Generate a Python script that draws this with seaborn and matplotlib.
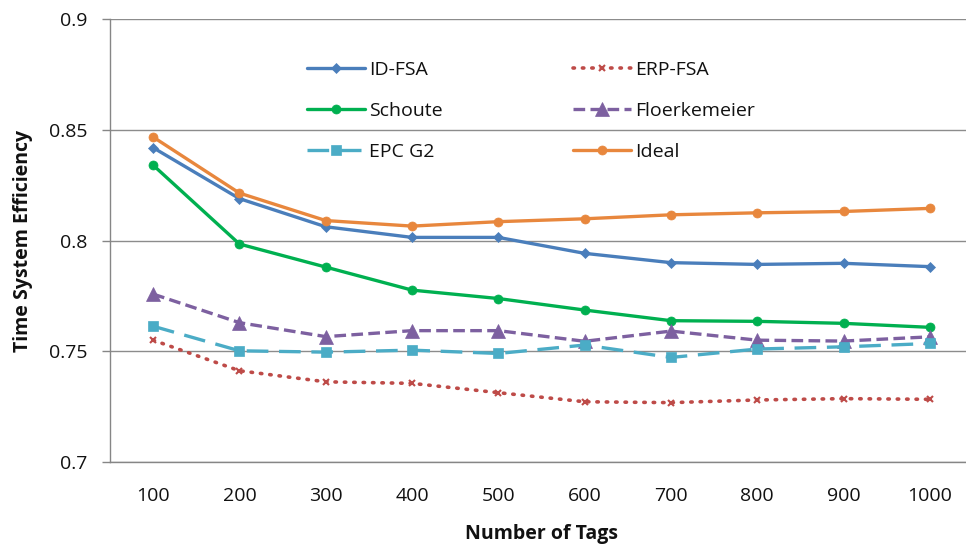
import numpy as np
import pandas as pd
import matplotlib
matplotlib.use("Agg")
import matplotlib.pyplot as plt
import seaborn as sns

tags = [100, 200, 300, 400, 500, 600, 700, 800, 900, 1000]

id_fsa = [0.8419, 0.8189, 0.8062, 0.8014, 0.8014, 0.7942, 0.7900, 0.7892, 0.7897, 0.7882]
erp_fsa = [0.7550, 0.7412, 0.7362, 0.7355, 0.7313, 0.7272, 0.7268, 0.7280, 0.7286, 0.7283]
schoute = [0.8340, 0.7984, 0.7880, 0.7776, 0.7738, 0.7686, 0.7638, 0.7635, 0.7626, 0.7608]
floerkemeier = [0.7758, 0.7629, 0.7566, 0.7593, 0.7593, 0.7545, 0.7591, 0.7550, 0.7546, 0.7565]
epc_g2 = [0.7613, 0.7502, 0.7496, 0.7505, 0.7490, 0.7528, 0.7472, 0.7510, 0.7520, 0.7535]
ideal = [0.8467, 0.8214, 0.8090, 0.8065, 0.8085, 0.8098, 0.8116, 0.8125, 0.8131, 0.8145]

y_ticks = [0.7, 0.75, 0.8, 0.85, 0.9]
y_tick_labels = ["0.7", "0.75", "0.8", "0.85", "0.9"]

sns.set_theme(style="white")
plt.rcParams["font.family"] = ["Open Sans", "DejaVu Sans"]

fig = plt.figure(figsize=(9.66, 5.49), dpi=100)
ax = fig.add_axes([110 / 966, 87 / 549, 863 / 966, 443 / 549])

pos = np.arange(len(tags))

# (label, values, color, dash pattern, marker, marker size)
series = [
    ("ID-FSA", id_fsa, "#4A7EBB", None, "D", 5),
    ("ERP-FSA", erp_fsa, "#BE4B48", (0.4, 2.2), "x", 5),
    ("Schoute", schoute, "#00B050", None, "o", 6.5),
    ("Floerkemeier", floerkemeier, "#7D60A0", (3.5, 1.6), "^", 10),
    ("EPC G2", epc_g2, "#4BACC6", (6.5, 3.2), "s", 7.5),
    ("Ideal", ideal, "#E8873D", None, "o", 6.5),
]

for label, vals, color, dash, marker, ms in series:
    df = pd.DataFrame({"x": pos, "y": vals})
    line_ax = sns.lineplot(data=df, x="x", y="y", ax=ax, color=color, linewidth=2.4,
                           marker=marker, markersize=ms, markeredgecolor=color,
                           markerfacecolor=color, markeredgewidth=1.5 if marker == "x" else 0.5,
                           label=label)
    ln = line_ax.lines[-1]
    if dash is not None:
        ln.set_dashes(dash)
        if label == "ERP-FSA":
            ln.set_dash_capstyle("round")
            ln.set_linewidth(2.6)

ax.set_xlim(-0.5, len(tags) - 0.5)
ax.set_ylim(0.7, 0.9)

ax.set_yticks(y_ticks)
ax.set_yticklabels(y_tick_labels)
ax.set_xticks(pos)
ax.set_xticklabels([str(t) for t in tags])
ax.set_xticks(np.arange(-0.5, len(tags), 1.0), minor=True)

ax.tick_params(axis="x", which="major", length=0, pad=18, labelsize=14, colors="#111111")
ax.tick_params(axis="x", which="minor", length=6, width=1, color="#868686", direction="out")
ax.tick_params(axis="y", which="major", length=6, width=1, color="#868686",
               direction="out", pad=10, labelsize=14, labelcolor="#111111", left=True)

ax.yaxis.grid(True, color="#8C8C8C", linewidth=1)
ax.xaxis.grid(False)
ax.set_axisbelow(True)

for side in ["top", "right"]:
    ax.spines[side].set_visible(False)
for side in ["left", "bottom"]:
    ax.spines[side].set_color("#868686")
    ax.spines[side].set_linewidth(1)

ax.set_xlabel("Number of Tags", fontsize=14, fontweight="bold", labelpad=14, color="#111111")
ax.set_ylabel("Time System Efficiency", fontsize=14, fontweight="bold", labelpad=12, color="#111111")

# Legend fills row by row: reorder so matplotlib's column-first layout matches
handles, labels = ax.get_legend_handles_labels()
order = [0, 2, 4, 1, 3, 5]
leg = ax.legend([handles[i] for i in order], [labels[i] for i in order], ncol=2,
                frameon=False, loc="upper left", bbox_to_anchor=(0.208, 0.945),
                fontsize=14, handlelength=3.0, handletextpad=0.2, columnspacing=6.7,
                labelspacing=1.18)
for t in leg.get_texts():
    t.set_color("#111111")

fig.savefig("out.png", dpi=100, facecolor="white")
